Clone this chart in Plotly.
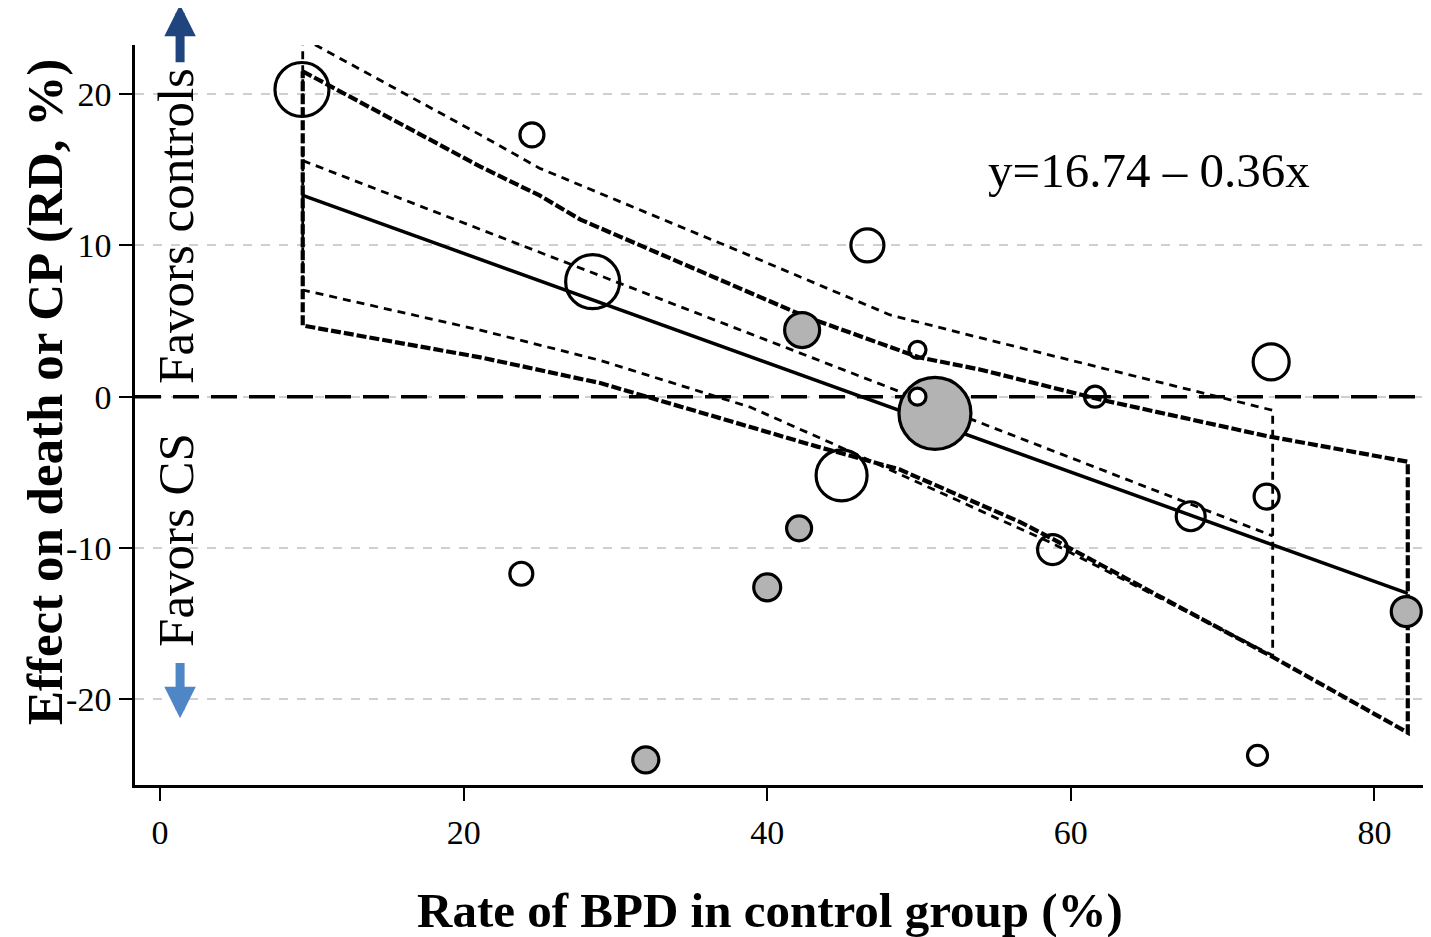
import plotly.graph_objects as go

# ---------------- data ----------------
# study points: control-group BPD rate (%), risk difference (%), bubble diameter weight, group
study_x = [9.35, 24.5, 28.5, 23.8, 32.0, 40.0, 42.1, 42.3, 46.6, 44.9,
           49.9, 49.9, 51.05, 61.6, 58.8, 67.9, 73.2, 72.9, 72.3, 82.1]
study_y = [20.3, 17.3, 7.6, -11.7, -24.0, -12.6, -8.7, 4.4, 10.0, -5.2,
           3.1, 0.0, -1.1, 0.0, -10.1, -7.9, 2.3, -6.6, -23.7, -14.2]
study_w = [54, 24, 54, 23, 26, 27, 25, 35, 33, 51,
           17, 17, 72, 21, 30, 29, 36, 25, 20, 30]
study_grp = ["open", "open", "open", "open", "gray", "gray", "gray", "gray", "open", "open",
             "open", "white", "gray", "open", "open", "open", "open", "open", "open", "gray"]

# fitted meta-regression line (all studies)
fit_x = [9.4, 82.2]
fit_y = [13.3, -13.0]

# 95% CI band of the fit (heavy dashed)
bandB_up_x = [9.4, 21.1, 25.0, 27.7, 42.5, 50.0, 54.0, 62.0, 72.9, 82.2]
bandB_up_y = [21.5, 15.2, 13.3, 11.7, 5.3, 2.6, 1.8, -0.2, -2.6, -4.3]
bandB_lo_x = [9.4, 21.1, 29.0, 43.3, 48.7, 56.7, 58.8, 73.3, 82.2]
bandB_lo_y = [4.7, 2.6, 0.9, -3.3, -4.8, -8.3, -9.4, -17.2, -22.2]

# second fit and its band (thin dashed)
fitA_x = [9.4, 73.3]
fitA_y = [15.6, -9.2]
bandA_up_x = [9.4, 21.1, 25.0, 38.2, 48.1, 54.0, 73.3]
bandA_up_y = [23.7, 17.3, 15.1, 9.6, 5.4, 3.9, -0.9]
bandA_lo_x = [9.4, 21.1, 29.0, 38.9, 44.3, 58.8, 73.3]
bandA_lo_y = [7.05, 4.4, 2.4, -0.7, -3.1, -9.7, -17.1]

x_range = [-1.65, 83.73]
y_range = [-25.66, 23.24]
x_ticks = [0, 20, 40, 60, 80]
y_ticks = [-20, -10, 0, 10, 20]
y_ticktext = ["-20", "-10", "0", "10", "20"]
ref_value = 0

equation = "y=16.74 \u2013 0.36x"
x_title = "Rate of BPD in control group (%)"
y_title = "Effect on death or CP (RD, %)"
favor_up = "Favors controls"
favor_down = "Favors CS"

FONT = "Liberation Serif, Times New Roman, serif"

# the page body has an 8px margin, so the figure is offset by 8px
W, H, OFF = 1431, 937, 8
L, T, B, R = 135 - OFF, 45 - OFF, H - (785 - OFF), OFF
PW, PH = W - L - R, H - T - B


def px_to_paper_x(px):
    return (px - OFF - L) / PW


def px_to_paper_y(py):
    return 1 - (py - OFF - T) / PH


fig = go.Figure()

# zero reference line (no-effect line)
fig.add_trace(go.Scatter(x=x_range, y=[ref_value, ref_value], mode="lines",
                         line=dict(color="black", width=3.5, dash="26px,12px"),
                         hoverinfo="skip", cliponaxis=False))

# band A (thin dashed) closed outline
ax_ = bandA_up_x + bandA_lo_x[::-1] + [bandA_up_x[0]]
ay_ = bandA_up_y + bandA_lo_y[::-1] + [bandA_up_y[0]]
fig.add_trace(go.Scatter(x=ax_, y=ay_, mode="lines",
                         line=dict(color="black", width=2.8, dash="8px,6px"),
                         hoverinfo="skip"))
fig.add_trace(go.Scatter(x=fitA_x, y=fitA_y, mode="lines",
                         line=dict(color="black", width=2.8, dash="8px,6px"),
                         hoverinfo="skip"))
# band B (heavy dashed) closed outline
bx_ = bandB_up_x + bandB_lo_x[::-1] + [bandB_up_x[0]]
by_ = bandB_up_y + bandB_lo_y[::-1] + [bandB_up_y[0]]
fig.add_trace(go.Scatter(x=bx_, y=by_, mode="lines",
                         line=dict(color="black", width=4.2, dash="10px,3px"),
                         hoverinfo="skip"))
# solid fit
fig.add_trace(go.Scatter(x=fit_x, y=fit_y, mode="lines",
                         line=dict(color="black", width=3.5), hoverinfo="skip"))

fill_map = {"gray": "#b3b3b3", "open": "rgba(255,255,255,0)", "white": "white"}
order = ["gray", "open", "white"]
for g in order:
    idx = [i for i, v in enumerate(study_grp) if v == g]
    fig.add_trace(go.Scatter(
        x=[study_x[i] for i in idx], y=[study_y[i] for i in idx], mode="markers",
        marker=dict(size=[study_w[i] for i in idx], color=fill_map[g], opacity=1,
                    line=dict(color="black", width=3.2)),
        hoverinfo="skip", cliponaxis=True))

# annotations
fig.add_annotation(x=65.15, y=14.97, xref="x", yref="y", text=equation, showarrow=False,
                   xanchor="center", yanchor="middle",
                   font=dict(family=FONT, size=49, color="black"))
fig.add_annotation(x=1.05, y=11.28, xref="x", yref="y", text=favor_up, showarrow=False,
                   xanchor="center", yanchor="middle", textangle=-90,
                   font=dict(family=FONT, size=51, color="black"))
fig.add_annotation(x=1.05, y=-9.47, xref="x", yref="y", text=favor_down, showarrow=False,
                   xanchor="center", yanchor="middle", textangle=-90,
                   font=dict(family=FONT, size=51, color="black"))
fig.add_annotation(x=1.32, y=25.9, xref="x", yref="y", ax=1.32, ay=22.0, axref="x", ayref="y",
                   text="", showarrow=True, arrowhead=2, arrowsize=0.7, arrowwidth=9,
                   arrowcolor="#1f447e", standoff=0, startstandoff=0)
fig.add_annotation(x=1.32, y=-21.25, xref="x", yref="y", ax=1.32, ay=-17.5, axref="x", ayref="y",
                   text="", showarrow=True, arrowhead=2, arrowsize=0.7, arrowwidth=9,
                   arrowcolor="#4f86c6", standoff=0, startstandoff=0)

# axis titles as annotations (placed where the original puts them)
fig.add_annotation(x=px_to_paper_x(770), y=px_to_paper_y(910), xref="paper", yref="paper",
                   xanchor="center", yanchor="middle",
                   text="<b>" + x_title + "</b>", showarrow=False,
                   font=dict(family=FONT, size=49, color="black"))
fig.add_annotation(x=px_to_paper_x(45), y=px_to_paper_y(392), xref="paper", yref="paper",
                   xanchor="center", yanchor="middle",
                   text="<b>" + y_title + "</b>", showarrow=False, textangle=-90,
                   font=dict(family=FONT, size=51, color="black"))

fig.update_layout(
    width=W, height=H,
    margin=dict(l=L, r=R, t=T, b=B, autoexpand=False),
    paper_bgcolor="white", plot_bgcolor="white",
    showlegend=False,
    font=dict(family=FONT, color="black"),
    xaxis=dict(range=x_range, tickvals=x_ticks, ticks="outside", ticklen=13,
               tickwidth=2, tickcolor="black", showline=True, linewidth=2.5, linecolor="black",
               showgrid=False, zeroline=False, tickfont=dict(family=FONT, size=34),
               ticklabelstandoff=2, automargin=False),
    yaxis=dict(range=y_range, tickvals=y_ticks, ticktext=y_ticktext, ticks="outside",
               ticklen=13, tickwidth=2, tickcolor="black", showline=True, linewidth=2.5,
               linecolor="black", showgrid=True, gridcolor="#cfcfcf", gridwidth=1.5,
               griddash="dash", zeroline=False, tickfont=dict(family=FONT, size=34),
               ticklabelstandoff=1, automargin=False),
)

fig.write_html("out.html")
